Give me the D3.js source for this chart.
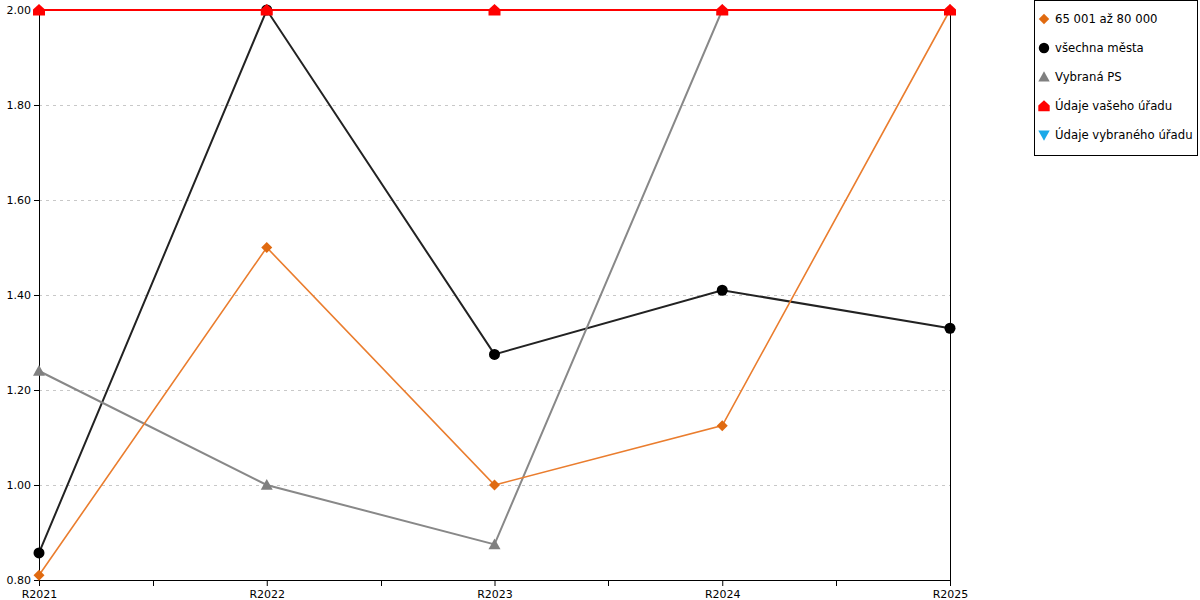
<!DOCTYPE html>
<html><head><meta charset="utf-8">
<script src="https://cdn.jsdelivr.net/npm/d3@7"></script>
<style>
body{margin:0;background:#fff;}
svg{font-family:"DejaVu Sans",Verdana,sans-serif;}
</style></head>
<body><svg id="c" width="1200" height="600"></svg>
<script>
const categories = ["R2021","R2022","R2023","R2024","R2025"];
const yTicks = [0.80,1.00,1.20,1.40,1.60,1.80,2.00];
const seriesNames = ["65 001 až 80 000","všechna města","Vybraná PS","Údaje vašeho úřadu","Údaje vybraného úřadu"];
const valsOrange = [0.81,1.50,1.00,1.125,2.00];
const valsBlack = [0.857,2.00,1.275,1.41,1.33];
const valsGrey = [1.24,1.00,0.875,2.00,2.00];
const valsRed = [2.00,2.00,2.00,2.00,2.00];
const valsBlue = [];

const series = [
 {name:seriesNames[0], vals:valsOrange, line:"#ea7d2e", fill:"#e06a10", sym:"diamond", size:5.5, w:1.6},
 {name:seriesNames[1], vals:valsBlack, line:"#222", fill:"#000", sym:"circle", size:5.5, w:2},
 {name:seriesNames[2], vals:valsGrey, line:"#888", fill:"#808080", sym:"tri", size:6, w:2},
 {name:seriesNames[3], vals:valsRed, line:"#ff0000", fill:"#ff0000", sym:"house", size:6, w:2},
 {name:seriesNames[4], vals:valsBlue, line:"#1aa9e8", fill:"#1aa9e8", sym:"down", size:6, w:2},
];

const svg = d3.select("#c");
const L=39,R=950,T=10,B=580;
const x = d3.scalePoint().domain(categories).range([L,R]);
const y = d3.scaleLinear().domain([0.8,2.0]).range([B,T]);

// gridlines
svg.append("g").selectAll("line").data(yTicks.slice(1)).join("line")
 .attr("x1",L).attr("x2",R).attr("y1",d=>y(d)+0.5).attr("y2",d=>y(d)+0.5)
 .attr("stroke","#c8c8c8").attr("stroke-dasharray","3,4").attr("shape-rendering","crispEdges");

// y axis
const ya = svg.append("g").attr("transform",`translate(${L},0)`)
 .call(d3.axisLeft(y).tickValues(yTicks).tickFormat(d3.format(".2f")).tickSize(5).tickSizeOuter(0));
ya.select(".domain").attr("stroke","#000");
ya.selectAll("text").attr("font-size",11).attr("fill","#000").attr("font-family","DejaVu Sans");
// x axis
const xa = svg.append("g").attr("transform",`translate(0,${B})`)
 .call(d3.axisBottom(x).tickSize(6).tickSizeOuter(0).tickPadding(4));
xa.select(".domain").attr("stroke","#000");
xa.selectAll("text").attr("font-size",11).attr("fill","#000").attr("font-family","DejaVu Sans");
// minor ticks between categories
const mids = categories.slice(1).map((c,i)=>(x(categories[i])+x(c))/2);
svg.append("g").selectAll("line").data(mids).join("line")
 .attr("x1",d=>Math.round(d)+0.5).attr("x2",d=>Math.round(d)+0.5).attr("y1",B).attr("y2",B+6).attr("stroke","#000");

function symPath(s,r){
  if(s==="house") return `M${-r},${r*0.9}L${-r},${-r*0.1}L0,${-r*1.0}L${r},${-r*0.1}L${r},${r*0.9}Z`;
  if(s==="diamond") return `M0,${-r}L${r},0L0,${r}L${-r},0Z`;
  if(s==="circle") return d3.symbol(d3.symbolCircle,Math.PI*r*r)();
  if(s==="tri") return `M0,${-r}L${r},${r*0.8}L${-r},${r*0.8}Z`;
  if(s==="down") return `M0,${r}L${r},${-r*0.8}L${-r},${-r*0.8}Z`;
}

const line = d3.line().x((d,i)=>x(categories[i])).y(d=>y(d));
const order=[1,2,0,3,4];
order.forEach(k=>{
  const s=series[k];
  if(!s.vals.length) return;
  svg.append("path").datum(s.vals).attr("d",line).attr("fill","none").attr("stroke",s.line).attr("stroke-width",s.w);
});
// right border
svg.append("line").attr("x1",R+0.5).attr("x2",R+0.5).attr("y1",T).attr("y2",B).attr("stroke","#000").attr("shape-rendering","crispEdges");
order.forEach(k=>{
  const s=series[k];
  svg.append("g").selectAll("path").data(s.vals).join("path")
   .attr("transform",(d,i)=>`translate(${x(categories[i])},${y(d)})`)
   .attr("d",symPath(s.sym,s.size)).attr("fill",s.fill);
});

// legend
const lg = svg.append("g");
lg.append("rect").attr("x",1034.5).attr("y",0.5).attr("width",163).attr("height",155).attr("fill","#fff").attr("stroke","#000");
series.forEach((s,i)=>{
  const cy=19+i*29;
  lg.append("path").attr("transform",`translate(1044,${cy})`).attr("d",symPath(s.sym,s.size*0.95)).attr("fill",s.fill);
  lg.append("text").attr("x",1055).attr("y",cy+4).attr("font-size",11.7).attr("fill","#000").text(s.name);
});
</script></body></html>
